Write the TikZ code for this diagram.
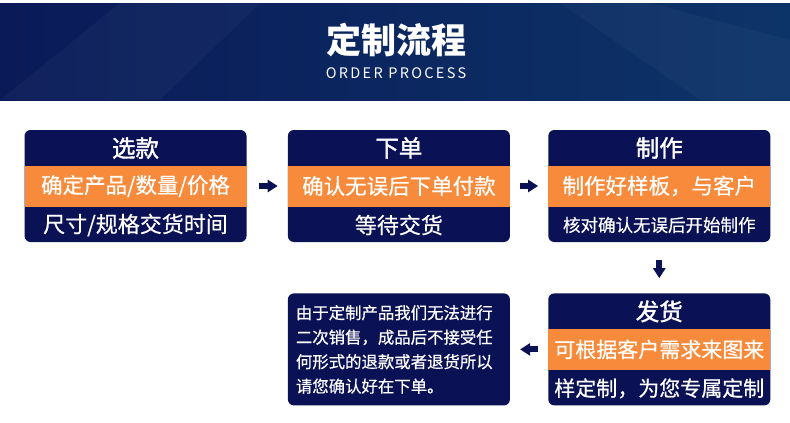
\documentclass[tikz,border=0pt]{standalone}
\usepackage{fontspec}
\usepackage{tikz}
\usetikzlibrary{arrows.meta,positioning,calc}
\newfontfamily\cjk[FakeBold=0.5]{Noto Sans CJK SC}
\newfontfamily\cjkhead[FakeBold=1.6]{Noto Sans CJK SC}
\newfontfamily\cjktitle{Noto Sans CJK SC}
\newfontfamily\cjklatin[LetterSpace=16]{Noto Sans CJK SC}
\definecolor{flnavy}{HTML}{0B1155}
\definecolor{florange}{HTML}{F88B3B}
\definecolor{flbannerl}{HTML}{0A1A58}
\definecolor{flbannerr}{HTML}{0D3469}
\newcommand{\fs}[1]{\fontsize{#1}{#1}\selectfont}

\begin{document}
\begin{tikzpicture}[x=1pt,y=-1pt,
  node distance=40pt,
  card/.style={draw=none,fill=flnavy,rounded corners=6pt,
              minimum width=222pt,minimum height=112pt,inner sep=0pt},
  band/.style={fill=florange,minimum width=222pt,minimum height=41pt,
              inner sep=0pt,text=white,font=\cjk\fs{21.5}},
  headtxt/.style={text=white,inner sep=0pt,font=\cjkhead\fs{23.5}},
  foot/.style={text=white,inner sep=0pt,font=\cjk\fs{22}},
  blockarrow/.style={draw=flnavy,line width=6pt,
              -{Triangle[length=10pt,width=12pt]}}]
\useasboundingbox (0,0) rectangle (790,423);
\fill[white] (0,0) rectangle (790,423);
% banner
\shade[left color=flbannerl,right color=flbannerr] (0,3) rectangle (790,100);
\fill[white,opacity=0.03] (0,100) -- (120,3) -- (260,3) -- (160,100) -- cycle;
\fill[white,opacity=0.03] (560,3) -- (700,100) -- (790,100) -- (790,40) -- (650,3) -- cycle;
\node[text=white,inner sep=0pt,font=\cjktitle\bfseries\fs{35}] (title) at (396,40) {定制流程};
\node[text=white,inner sep=0pt,font=\cjklatin\fs{14.5}] (subtitle) at (396,73.5) {ORDER PROCESS};

% step 1
\node[card] (pick) at (135.5,186) {};
\node[band] (pickmid) at (pick.center) {确定产品/数量/价格};
\node[headtxt] (pickhead) at ($(pick.center)+(0,-38)$) {选款};
\node[foot] (pickfoot) at ($(pick.center)+(0,39)$) {尺寸/规格交货时间};

% step 2
\node[card,right=41pt of pick] (order) {};
\node[band] (ordermid) at (order.center) {确认无误后下单付款};
\node[headtxt] (orderhead) at ($(order.center)+(0,-38)$) {下单};
\node[foot] (orderfoot) at ($(order.center)+(0,39)$) {等待交货};

% step 3
\node[card,right=38pt of order] (make) {};
\node[band] (makemid) at (make.center) {制作好样板，与客户};
\node[headtxt] (makehead) at ($(make.center)+(0,-38)$) {制作};
\node[foot,font=\cjk\fs{17.5}] (makefoot) at ($(make.center)+(0,39)$) {核对确认无误后开始制作};

% step 4
\node[card,below=51pt of make] (ship) {};
\node[band,font=\cjk\fs{21}] (shipmid) at (ship.center) {可根据客户需求来图来};
\node[headtxt] (shiphead) at ($(ship.center)+(0,-38)$) {发货};
\node[foot,font=\cjk\fs{21}] (shipfoot) at ($(ship.center)+(0,39)$) {样定制，为您专属定制};

% note
\node[card,left=38pt of ship,text=white,align=left,text width=206pt,
  font=\cjk\fontsize{16.4}{24.5}\selectfont] (note)
  {由于定制产品我们无法进行\\二次销售，成品后不接受任\\何形式的退款或者退货所以\\请您确认好在下单。};

\draw[blockarrow,shorten <=12pt,shorten >=10pt] (pick) -- (order);
\draw[blockarrow,shorten <=10pt,shorten >=10pt] (order) -- (make);
\draw[blockarrow,shorten <=18pt,shorten >=15pt] (make) -- (ship);
\draw[blockarrow,shorten <=10pt,shorten >=10pt] (ship) -- (note);
\end{tikzpicture}
\end{document}
